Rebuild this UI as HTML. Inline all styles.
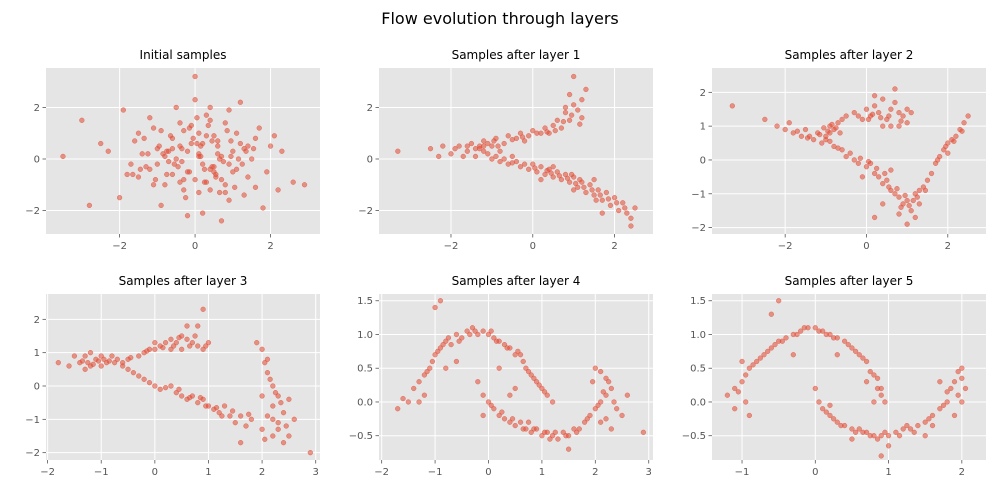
<!DOCTYPE html>
<html><head><meta charset="utf-8">
<style>
html,body{margin:0;padding:0;background:#fff;}
svg{display:block;font-family:"DejaVu Sans","Liberation Sans",sans-serif;}
</style></head>
<body>
<svg id="fig" width="1000" height="500" viewBox="0 0 1000 500">
<text x="500" y="24" text-anchor="middle" font-size="16" fill="#000">Flow evolution through layers</text>
</svg>
<script>
const titles = ["Initial samples","Samples after layer 1","Samples after layer 2","Samples after layer 3","Samples after layer 4","Samples after layer 5"];
const xTicks = [[-2,0,2],[-2,0,2],[-2,0,2],[-2,-1,0,1,2,3],[-2,-1,0,1,2,3],[-1,0,1,2]];
const yTicks = [[-2,0,2],[-2,0,2],[-2,-1,0,1,2],[-2,-1,0,1,2],[-0.5,0,0.5,1,1.5],[-0.5,0,0.5,1,1.5]];
const yTickLabels = [["−2","0","2"],["−2","0","2"],["−2","−1","0","1","2"],["−2","−1","0","1","2"],["−0.5","0.0","0.5","1.0","1.5"],["−0.5","0.0","0.5","1.0","1.5"]];
const xTickLabels = [["−2","0","2"],["−2","0","2"],["−2","0","2"],["−2","−1","0","1","2","3"],["−2","−1","0","1","2","3"],["−1","0","1","2"]];
const xDomains = [[-3.95,3.31],[-3.76,2.94],[-3.80,2.94],[-2.03,3.08],[-2.05,3.08],[-1.41,2.33]];
const yDomains = [[-2.91,3.53],[-2.91,3.53],[-2.19,2.72],[-2.22,2.76],[-0.86,1.60],[-0.86,1.60]];

const p1x=[-0.2,0.5,-1.1,1.3,0.1,-0.6,0.9,-1.8,2.1,0.3,-0.4,1.6,-2.5,0.7,-0.9,0.0,1.1,-1.4,0.4,-0.1,2.6,-3.5,0.8,-0.7,1.9,-1.2,0.2,0.6,-0.3,1.4,-2.0,0.9,-0.5,0.1,1.2,-1.6,0.3,-0.8,2.3,-0.2,0.5,-1.0,1.7,-2.8,0.0,0.7,-0.4,1.0,-1.3,0.4,2.9,-0.6,0.2,-1.9,1.5,-0.1,0.8,-2.3,0.6,-0.9,1.3,0.1,-0.3,1.8,-1.5,0.5,-0.7,0.9,-0.2,2.0,-1.1,0.3,-3.0,1.1,-0.5,0.4,-1.7,0.7,0.0,1.6,-0.6,0.2,1.0,-1.2,0.6,-0.3,1.4,-0.8,0.4,-1.5,2.2,0.1,-0.4,0.8,-1.0,1.2,
 0.15,-0.35,0.45,-0.75,0.95,-1.25,0.25,-0.05,0.65,-0.55,1.05,-0.95,0.35,-0.15,1.35,-1.45,0.55,-0.65,0.05,0.85,-0.25,1.15,-0.85,0.75,-1.05,0.05,-0.45,1.55,-1.65,0.45,0.25,-0.35,0.95,-0.15,0.65,-0.75,1.25,-1.35,0.15,0.55];
const p1y=[0.3,-0.5,1.2,0.4,-1.3,0.8,-0.2,-0.6,0.9,1.7,-0.9,-1.1,0.6,0.1,-1.8,2.3,1.0,0.2,-0.4,0.6,-0.9,0.1,1.4,-0.1,-0.5,1.6,-2.1,0.5,1.1,-0.7,-1.5,-1.6,0.0,1.0,2.2,0.7,0.9,-1.0,0.3,-2.2,-0.3,0.4,1.2,-1.8,3.2,-0.8,0.5,0.3,-0.3,2.0,-1.0,-0.6,-0.2,1.9,0.0,1.3,-1.3,0.3,0.7,1.1,-1.4,0.1,-1.2,-1.9,-0.7,0.9,0.3,1.9,-0.5,0.5,-1.0,-0.9,1.5,-0.4,2.0,1.5,-0.2,-2.4,-0.8,0.8,0.4,0.6,-0.5,-0.4,0.2,-0.8,0.5,0.1,-1.2,1.0,-1.2,0.2,1.4,-1.0,-0.2,0.6,
 0.1,0.4,-0.3,-0.6,0.7,0.2,-0.9,0.8,0.0,-0.2,-1.1,0.5,1.3,-0.5,0.3,-0.4,-0.7,0.9,0.6,1.1,-1.5,0.0,0.2,-0.1,-0.8,1.6,-0.3,0.4,-0.6,0.7,-0.4,-0.1,0.1,1.2,-1.3,0.3,-0.2,0.8,0.5,-0.6];
const p2=[[-3.3,0.3],[-2.5,0.4],[-2.2,0.5],[-2,0.2],[-1.8,0.5],[-1.6,0.3],[-1.5,0.6],[-1.3,0.4],[-1.2,0.7],[-1,0.5],[-0.9,0.8],[-0.7,0.6],[-0.6,0.9],[-0.4,0.8],[-0.3,1.0],[-0.1,0.9],[0,1.1],[0.2,1.0],[0.3,1.2],[0.5,1.3],[0.6,1.5],[0.7,1.2],[0.8,1.8],[0.9,1.5],[1.0,2.1],[0.9,2.5],[1.1,1.9],[1.2,1.6],[0.8,2.0],[1.0,3.2],[1.2,2.3],[-1.1,0.2],[-1.4,0.1],[-0.8,0.3],[-2.3,0.1],[-1.3,0.5],[-1.0,0.0],[-0.8,-0.1],[-0.6,-0.2],[-0.4,-0.1],[-0.3,-0.3],[-0.1,-0.4],[0,-0.2],[0.1,-0.5],[0.2,-0.3],[0.3,-0.6],[0.4,-0.4],[0.5,-0.7],[0.6,-0.5],[0.7,-0.8],[0.8,-0.6],[0.9,-0.9],[1.0,-0.7],[1.1,-1.1],[1.2,-0.9],[1.3,-1.3],[1.4,-1.0],[1.5,-1.4],[1.6,-1.2],[1.7,-1.6],[1.8,-1.3],[1.9,-1.8],[2.0,-1.5],[2.1,-2.0],[2.2,-1.7],[2.3,-2.1],[2.4,-2.3],[2.5,-1.9],[2.4,-2.6],[0.5,-0.3],[1.0,-1.2],[1.5,-0.8],[0.2,-0.8],[-0.5,0.1],[1.7,-2.1],[-1.7,0.1],[-1.2,0.3],[-0.2,0.7],[0.4,1.0],[1.3,2.7],
 [-1.9,0.4],[-1.6,0.5],[-1.4,0.4],[-1.2,0.5],[-1.1,0.6],[-0.95,0.7],[-0.85,0.5],[-0.5,0.75],[-0.25,0.85],[0.1,1.0],[0.35,1.05],[0.55,1.1],[0.75,1.45],[0.95,1.7],[1.15,1.35],[-0.9,0.1],[-0.7,0.0],[-0.5,-0.15],[-0.2,-0.2],[0.05,-0.35],[0.35,-0.45],[0.65,-0.65],[0.85,-0.75],[1.05,-0.95],[1.25,-1.1],[1.45,-1.2],[1.65,-1.4],[1.85,-1.55],[2.05,-1.7],[2.25,-1.9],[0.45,-0.55],[0.95,-0.6],[1.15,-0.8],[1.55,-1.6]];
const p3=[[-3.3,1.6],[-2.5,1.2],[-2.2,1.0],[-2,0.9],[-1.8,0.8],[-1.6,0.7],[-1.5,0.9],[-1.3,0.6],[-1.2,0.8],[-1.0,0.7],[-0.9,1.0],[-0.8,0.9],[-0.7,1.1],[-0.6,1.2],[-0.5,1.3],[-0.3,1.4],[-0.1,1.2],[0,1.5],[0.1,1.3],[0.2,1.6],[0.3,1.4],[0.4,1.8],[0.5,1.2],[0.6,1.5],[0.7,2.1],[0.8,1.0],[0.9,1.3],[1.0,1.1],[1.1,1.4],[0.6,1.0],[-1.1,0.5],[-1.9,1.1],[0.4,1.0],[0.7,1.7],[1.0,1.5],[0.2,1.9],[-1.0,0.6],[-0.8,0.4],[-0.6,0.3],[-0.5,0.1],[-0.3,0.0],[-0.2,-0.1],[0,-0.2],[0.1,-0.1],[0.2,-0.4],[0.3,-0.5],[0.4,-0.7],[0.5,-0.6],[0.6,-0.9],[0.7,-1.0],[0.8,-1.1],[0.9,-1.3],[1.0,-1.2],[1.1,-1.5],[1.2,-1.0],[1.3,-1.3],[1.4,-0.8],[1.5,-0.6],[1.6,-0.4],[1.7,-0.1],[1.8,0.1],[1.9,0.3],[2.0,0.5],[2.1,0.6],[2.2,0.7],[2.3,0.9],[2.4,1.1],[2.5,1.3],[0.4,-1.3],[0.2,-1.7],[0.8,-1.6],[1.0,-1.9],[-0.1,-0.5],[0.6,-0.3],[1.2,-1.7],[2.0,0.2],[-1.4,0.7],[-0.9,0.8],[0.8,1.4],[1.3,-0.9],
 [-1.7,0.85],[-1.45,0.65],[-1.15,0.75],[-1.05,0.95],[-0.95,0.85],[-0.85,1.05],[-0.75,0.95],[-0.65,0.8],[-0.9,0.55],[-0.7,0.35],[-0.4,0.2],[-0.15,0.05],[0.05,-0.05],[0.25,-0.25],[0.45,-0.4],[0.55,-0.8],[0.75,-0.85],[0.85,-1.4],[0.95,-1.05],[1.05,-1.35],[1.15,-1.2],[1.25,-1.1],[1.45,-0.9],[1.75,0.0],[1.95,0.4],[2.15,0.55],[2.35,0.85],[0.15,1.35],[0.35,1.25],[0.55,1.3],[0.85,1.15],[-0.2,1.3],[0.05,1.2]];
const p4=[[-1.8,0.7],[-1.6,0.6],[-1.4,0.7],[-1.3,0.9],[-1.2,0.6],[-1.1,0.8],[-1.0,0.9],[-0.9,0.7],[-0.8,0.9],[-0.7,0.8],[-0.6,0.7],[-0.5,0.8],[-0.3,0.9],[-0.2,1.0],[-0.1,1.1],[0,1.1],[0.1,1.2],[0.2,1.3],[0.3,1.4],[0.4,1.3],[0.5,1.5],[0.6,1.4],[0.7,1.3],[0.8,1.2],[0.9,1.1],[1.0,1.3],[0.8,1.8],[0.9,2.3],[0.5,1.1],[0.3,1.1],[-1.3,0.5],[-1.0,0.6],[-1.5,0.9],[0.0,1.3],[-1.2,1.0],[0.6,1.8],[-0.6,0.6],[-0.4,0.4],[-0.2,0.2],[0,0.0],[0.1,-0.1],[0.3,0.0],[0.4,-0.2],[0.5,-0.3],[0.6,-0.4],[0.7,-0.3],[0.8,-0.5],[0.9,-0.4],[1.0,-0.6],[1.1,-0.7],[1.2,-0.8],[1.3,-0.6],[1.4,-0.9],[1.5,-1.1],[1.6,-0.9],[1.7,-1.2],[1.8,-1.0],[1.9,1.3],[2.0,1.1],[2.1,0.8],[2.1,0.4],[2.2,0.0],[2.3,-0.3],[2.2,-0.6],[2.4,-0.8],[2.3,-1.1],[2.0,-1.3],[2.5,-1.5],[2.4,-1.7],[2.2,-1.5],[2.6,-1.0],[2.1,-0.9],[1.6,-1.7],[2.9,-2.0],[2.0,-0.3],[2.5,-0.4],
 [-1.35,0.75],[-1.25,0.7],[-1.15,0.65],[-1.05,0.75],[-0.95,0.8],[-0.85,0.75],[-0.75,0.7],[-0.45,0.85],[-0.15,1.05],[0.15,1.15],[0.35,1.2],[0.45,1.45],[0.65,1.2],[0.75,1.5],[0.95,1.2],[-0.5,0.5],[-0.3,0.3],[-0.1,0.1],[0.2,-0.05],[0.45,-0.1],[0.65,-0.35],[0.85,-0.35],[0.95,-0.6],[1.15,-0.65],[1.25,-0.9],[1.45,-0.75],[1.75,-0.85],[2.05,0.7],[2.15,0.2],[2.25,-0.2],[2.35,-0.5],[2.2,-1.0],[2.3,-1.3],[2.45,-1.2],[2.05,-1.6]];
const p5=[[-1.7,-0.1],[-1.6,0.05],[-1.5,0.0],[-1.4,0.2],[-1.3,0.3],[-1.2,0.4],[-1.1,0.5],[-1.0,0.7],[-0.9,0.8],[-0.8,0.9],[-0.7,0.85],[-0.6,1.0],[-0.5,0.95],[-0.4,1.05],[-0.3,1.1],[-0.2,1.0],[-0.1,1.05],[0,1.0],[0.1,0.95],[0.2,0.9],[0.3,0.85],[0.4,0.8],[0.5,0.7],[0.6,0.7],[0.7,0.5],[0.8,0.4],[0.9,0.3],[1.0,0.2],[1.1,0.1],[1.2,0.0],[-1.0,1.4],[-0.9,1.5],[-1.2,0.1],[-0.6,0.6],[0.2,0.5],[0.5,0.2],[-1.3,0.0],[-0.8,0.5],[-0.2,0.3],[-0.1,0.1],[0,0.0],[0.1,-0.1],[0.2,-0.2],[0.3,-0.25],[0.4,-0.3],[0.5,-0.35],[0.6,-0.3],[0.7,-0.4],[0.8,-0.45],[0.9,-0.4],[1.0,-0.5],[1.1,-0.45],[1.2,-0.5],[1.3,-0.55],[1.4,-0.45],[1.5,-0.5],[1.6,-0.4],[1.7,-0.4],[1.8,-0.3],[1.9,-0.2],[2.0,-0.1],[2.1,0.0],[2.2,0.1],[2.3,0.2],[2.2,0.35],[2.1,0.45],[2.0,0.5],[2.4,-0.1],[2.5,-0.2],[2.6,0.1],[2.3,-0.4],[2.1,-0.3],[1.5,-0.7],[2.9,-0.45],[0.4,0.1],[-0.1,-0.2],
 [-1.15,0.45],[-1.05,0.6],[-0.95,0.75],[-0.85,0.85],[-0.75,0.95],[-0.55,0.9],[-0.35,1.0],[-0.25,1.05],[0.05,1.05],[0.15,0.9],[0.35,0.8],[0.55,0.75],[0.65,0.6],[0.75,0.45],[0.85,0.35],[0.95,0.25],[1.05,0.15],[0.05,-0.05],[0.25,-0.15],[0.45,-0.25],[0.65,-0.4],[0.85,-0.4],[1.05,-0.45],[1.25,-0.45],[1.45,-0.5],[1.65,-0.45],[1.85,-0.25],[2.05,-0.05],[2.15,0.15],[2.25,0.3],[2.35,0.0],[2.2,-0.25],[1.95,0.3],[1.15,-0.55],[0.75,-0.3]];
const p6=[[-1.2,0.1],[-1.1,0.2],[-1.0,0.3],[-0.95,0.0],[-0.9,0.5],[-0.8,0.6],[-0.7,0.7],[-0.6,0.8],[-0.5,0.9],[-0.4,0.95],[-0.3,1.0],[-0.2,1.05],[-0.1,1.1],[0,1.1],[0.1,1.05],[0.2,1.0],[0.3,0.95],[0.4,0.9],[0.5,0.8],[0.6,0.7],[0.7,0.6],[0.8,0.4],[0.85,0.2],[0.9,0.1],[0.95,0.0],[-0.6,1.3],[-0.5,1.5],[-1.0,0.6],[-0.3,0.7],[0.3,0.7],[0.8,0.0],[-1.1,-0.1],[-0.9,-0.2],[0.7,0.3],[0,0.2],[0.05,0.0],[0.1,-0.1],[0.2,-0.2],[0.3,-0.3],[0.4,-0.35],[0.5,-0.4],[0.6,-0.4],[0.7,-0.45],[0.8,-0.5],[0.9,-0.5],[1.0,-0.5],[1.1,-0.45],[1.2,-0.4],[1.3,-0.4],[1.4,-0.35],[1.5,-0.3],[1.6,-0.2],[1.7,-0.1],[1.8,0.0],[1.85,0.2],[1.9,0.3],[1.95,0.45],[2.0,0.5],[2.05,0.2],[2.0,0.0],[1.7,0.3],[0.9,-0.8],[1.0,-0.65],[0.5,-0.55],[0.2,-0.05],[1.5,-0.5],[1.9,-0.2],
 [-1.05,0.15],[-0.95,0.4],[-0.85,0.55],[-0.75,0.65],[-0.65,0.75],[-0.55,0.85],[-0.45,0.9],[-0.25,1.0],[-0.15,1.1],[0.05,1.05],[0.15,1.0],[0.25,0.95],[0.45,0.85],[0.55,0.75],[0.65,0.65],[0.75,0.45],[0.85,0.35],[0.9,0.2],[0.15,-0.15],[0.25,-0.25],[0.35,-0.35],[0.55,-0.45],[0.65,-0.45],[0.75,-0.5],[0.85,-0.55],[0.95,-0.45],[1.15,-0.5],[1.35,-0.45],[1.55,-0.25],[1.75,-0.05],[1.8,0.15],[1.95,0.1],[2.0,0.35],[1.6,-0.35],[1.25,-0.35]];

const NS="http://www.w3.org/2000/svg";
const fig=document.getElementById('fig');
const p1=p1x.map((v,i)=>[v,p1y[i]]).slice(0,Math.min(p1x.length,p1y.length));
const allPts=[p1,p2,p3,p4,p5,p6];
const colX=[46,379,712], rowY=[68,294], W=274, H=166;
function mk(tag,attrs,parent){const e=document.createElementNS(NS,tag);for(const k in attrs)e.setAttribute(k,attrs[k]);parent.appendChild(e);return e;}
for(let p=0;p<6;p++){
  const L=colX[p%3], T=rowY[Math.floor(p/3)];
  const [x0,x1]=xDomains[p],[y0,y1]=yDomains[p];
  const sx=v=>L+(v-x0)/(x1-x0)*W, sy=v=>T+H-(v-y0)/(y1-y0)*H;
  const g=mk('g',{},fig);
  
  
  const bg=mk('rect',{x:L,y:T,width:W,height:H,fill:'#E5E5E5'},g);
  
  
  xTicks[p].forEach((t,i)=>{
    const x=sx(t);
    mk('line',{x1:x,x2:x,y1:T,y2:T+H,stroke:'#fff','stroke-width':1},g);
    mk('line',{x1:x,x2:x,y1:T+H,y2:T+H+3.5,stroke:'#555','stroke-width':0.8},g);
    const tx=mk('text',{x:x,y:T+H+15,'text-anchor':'middle','font-size':10,fill:'#555'},g);
    tx.textContent=xTickLabels[p][i];
    
    
  });
  yTicks[p].forEach((t,i)=>{
    const y=sy(t);
    mk('line',{x1:L,x2:L+W,y1:y,y2:y,stroke:'#fff','stroke-width':1},g);
    mk('line',{x1:L-3.5,x2:L,y1:y,y2:y,stroke:'#555','stroke-width':0.8},g);
    const tx=mk('text',{x:L-6,y:y+3.5,'text-anchor':'end','font-size':10,fill:'#555'},g);
    tx.textContent=yTickLabels[p][i];
    
    
  });
  allPts[p].forEach(d=>{
    const c=mk('circle',{cx:sx(d[0]),cy:sy(d[1]),r:2.4,fill:'#E24A33','fill-opacity':0.55,stroke:'#E24A33','stroke-opacity':0.7,'stroke-width':0.5},g);
    
    
  });
  const tt=mk('text',{x:L+W/2,y:T-9,'text-anchor':'middle','font-size':12,fill:'#000'},g);
  tt.textContent=titles[p];
  
  
}
</script>
</body></html>
